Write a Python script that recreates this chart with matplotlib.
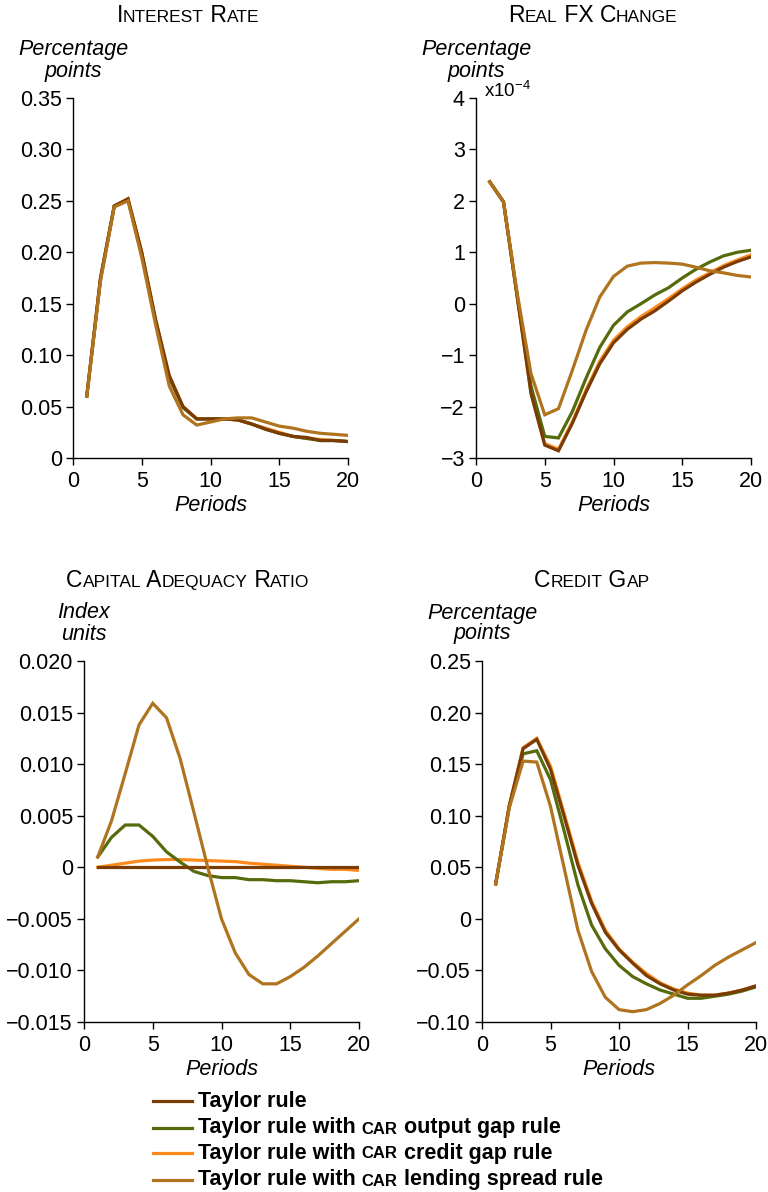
import numpy as np
import matplotlib
matplotlib.use('Agg')
import matplotlib.pyplot as plt
from matplotlib.lines import Line2D

plt.rcParams['font.family'] = ['Liberation Sans', 'DejaVu Sans']
plt.rcParams['mathtext.fontset'] = 'custom'
plt.rcParams['mathtext.rm'] = 'Liberation Sans'

#=======================================================================================
# Impulse responses (periods 1..20)
#=======================================================================================

periods = np.arange(1, 21)

scenario_names = ["Taylor rule",
                  "Taylor rule with CAR output gap rule",
                  "Taylor rule with CAR credit gap rule",
                  "Taylor rule with CAR lending spread rule"]
scenario_colors = ['#7a3c05', '#566b0c', '#ff8a1c', '#b0741f']

# Interest rate (percentage points)
ir_taylor = [0.060, 0.175, 0.245, 0.252, 0.200, 0.135, 0.080, 0.050, 0.038, 0.038,
             0.038, 0.037, 0.033, 0.028, 0.024, 0.021, 0.020, 0.017, 0.017, 0.016]
ir_output = [0.060, 0.174, 0.245, 0.251, 0.198, 0.133, 0.078, 0.049, 0.038, 0.038,
             0.038, 0.037, 0.033, 0.028, 0.024, 0.021, 0.019, 0.017, 0.017, 0.016]
ir_credit = [0.060, 0.175, 0.245, 0.252, 0.200, 0.135, 0.080, 0.050, 0.038, 0.038,
             0.038, 0.037, 0.033, 0.029, 0.025, 0.021, 0.019, 0.018, 0.017, 0.016]
ir_spread = [0.060, 0.172, 0.244, 0.250, 0.195, 0.130, 0.070, 0.042, 0.032, 0.035,
             0.038, 0.039, 0.039, 0.035, 0.031, 0.029, 0.026, 0.024, 0.023, 0.022]

# Real FX change (percentage points, x1e-4)
fx_taylor = [2.37, 1.98, 0.13, -1.75, -2.75, -2.86, -2.33, -1.72, -1.17, -0.76,
             -0.50, -0.30, -0.14, 0.05, 0.25, 0.42, 0.57, 0.71, 0.82, 0.91]
fx_output = [2.37, 1.98, 0.15, -1.60, -2.58, -2.61, -2.10, -1.45, -0.85, -0.42,
             -0.16, 0.00, 0.17, 0.31, 0.50, 0.67, 0.81, 0.93, 1.00, 1.04]
fx_credit = [2.37, 1.98, 0.13, -1.72, -2.72, -2.83, -2.30, -1.68, -1.12, -0.71,
             -0.45, -0.25, -0.08, 0.10, 0.29, 0.46, 0.60, 0.74, 0.85, 0.95]
fx_spread = [2.37, 1.98, 0.20, -1.36, -2.16, -2.04, -1.30, -0.52, 0.13, 0.53,
             0.73, 0.79, 0.80, 0.79, 0.77, 0.71, 0.64, 0.60, 0.55, 0.52]

# Capital adequacy ratio (index units)
car_taylor = [0.0] * 20
car_output = [0.0010, 0.0029, 0.0041, 0.0041, 0.0030, 0.0015, 0.0005, -0.0004, -0.0008, -0.0010,
              -0.0010, -0.0012, -0.0012, -0.0013, -0.0013, -0.0014, -0.0015, -0.0014, -0.0014, -0.0013]
car_credit = [0.0000, 0.0002, 0.0004, 0.0006, 0.0007, 0.00075, 0.00075, 0.0007, 0.00065, 0.0006,
              0.00055, 0.0004, 0.0003, 0.0002, 0.0001, 0.0000, -0.0001, -0.0002, -0.0002, -0.0003]
car_spread = [0.0010, 0.0045, 0.0091, 0.0138, 0.0159, 0.0145, 0.0105, 0.0053, 0.0000, -0.0050,
              -0.0083, -0.0104, -0.0113, -0.0113, -0.0106, -0.0097, -0.0086, -0.0074, -0.0062, -0.0050]

# Credit gap (percentage points)
cg_taylor = [0.034, 0.110, 0.165, 0.174, 0.145, 0.099, 0.052, 0.015, -0.013, -0.030,
             -0.043, -0.055, -0.063, -0.069, -0.073, -0.074, -0.074, -0.072, -0.069, -0.065]
cg_output = [0.034, 0.110, 0.160, 0.163, 0.135, 0.085, 0.033, -0.006, -0.029, -0.045,
             -0.056, -0.063, -0.069, -0.073, -0.077, -0.077, -0.075, -0.073, -0.070, -0.066]
cg_credit = [0.034, 0.110, 0.166, 0.175, 0.148, 0.102, 0.055, 0.017, -0.011, -0.029,
             -0.042, -0.053, -0.062, -0.068, -0.072, -0.074, -0.074, -0.072, -0.069, -0.065]
cg_spread = [0.034, 0.108, 0.153, 0.152, 0.109, 0.049, -0.011, -0.051, -0.076, -0.088,
             -0.090, -0.088, -0.082, -0.074, -0.064, -0.055, -0.045, -0.037, -0.030, -0.023]

yticks_ir = [0, 0.05, 0.10, 0.15, 0.20, 0.25, 0.30, 0.35]
ylabels_ir = ['0', '0.05', '0.10', '0.15', '0.20', '0.25', '0.30', '0.35']
yticks_fx = [-3, -2, -1, 0, 1, 2, 3, 4]
ylabels_fx = ['\u22123', '\u22122', '\u22121', '0', '1', '2', '3', '4']
yticks_car = [-0.015, -0.010, -0.005, 0, 0.005, 0.010, 0.015, 0.020]
ylabels_car = ['\u22120.015', '\u22120.010', '\u22120.005', '0', '0.005', '0.010', '0.015', '0.020']
yticks_cg = [-0.10, -0.05, 0, 0.05, 0.10, 0.15, 0.20, 0.25]
ylabels_cg = ['\u22120.10', '\u22120.05', '0', '0.05', '0.10', '0.15', '0.20', '0.25']

#=======================================================================================
# Figure
#=======================================================================================

W, H = 768, 1192
fig = plt.figure(figsize=(W / 100, H / 100), dpi=100)
renderer = fig.canvas.get_renderer()


def fx_(px):
    return px / W


def fy_(py):
    return 1 - py / H


def small_caps(x_px, y_px, parts, ha='center', **kw):
    # draw a run of text pieces of different sizes along one baseline
    texts = [fig.text(0, 0, s, fontsize=size, va='baseline', ha='left', **kw) for s, size in parts]
    widths = [t.get_window_extent(renderer).width for t in texts]
    x0 = x_px - sum(widths) / 2 if ha == 'center' else x_px
    for t, w in zip(texts, widths):
        t.set_position((fx_(x0), fy_(y_px)))
        x0 += w


def caps_title(x_px, y_px, text, big=16.5, small=12.5):
    # capitals stay large, lower case letters become small capitals
    parts = []
    for ch in text:
        size = small if ch.islower() else big
        if parts and parts[-1][1] == size:
            parts[-1] = (parts[-1][0] + ch.upper(), size)
        else:
            parts.append((ch.upper(), size))
    small_caps(x_px, y_px, parts)


panels = [
    # left px, top px, right px, bottom px, series, yticks, labels, title, unit
    (73, 98, 348, 458, [ir_taylor, ir_output, ir_credit, ir_spread], yticks_ir, ylabels_ir,
     "Interest Rate", ("Percentage", "points"), 188, 22),
    (476, 98, 751, 458, [fx_taylor, fx_output, fx_credit, fx_spread], yticks_fx, ylabels_fx,
     "Real FX Change", ("Percentage", "points"), 593, 22),
    (84, 661, 359, 1022, [car_taylor, car_output, car_credit, car_spread], yticks_car, ylabels_car,
     "Capital Adequacy Ratio", ("Index", "units"), 188, 587),
    (482, 661, 756, 1022, [cg_taylor, cg_output, cg_credit, cg_spread], yticks_cg, ylabels_cg,
     "Credit Gap", ("Percentage", "points"), 592, 587),
]

# draw order: credit gap rule at the bottom, lending spread rule on top
draw_order = [2, 1, 0, 3]

for (l, t, r, b, series, yt, yl, title, unit, tx, ty) in panels:
    ax = fig.add_axes([fx_(l), fy_(b), (r - l) / W, (b - t) / H])
    for z, i in enumerate(draw_order):
        ax.plot(periods, series[i], color=scenario_colors[i], lw=2.3,
                solid_joinstyle='miter', zorder=2 + z)
    ax.set_xlim(0, 20)
    ax.set_ylim(yt[0], yt[-1])
    ax.set_xticks([0, 5, 10, 15, 20])
    ax.set_yticks(yt)
    ax.set_yticklabels(yl)
    ax.spines['top'].set_visible(False)
    ax.spines['right'].set_visible(False)
    for s in ['left', 'bottom']:
        ax.spines[s].set_linewidth(1.0)
    ax.tick_params(direction='out', length=5, width=1.0, labelsize=15.5, pad=3)
    ax.tick_params(axis='x', pad=4.5)
    ax.set_xlabel("Periods", fontsize=15.5, style='italic', labelpad=2)
    ax.patch.set_visible(False)

    caps_title(tx, ty, title)
    fig.text(fx_(l), fy_(t - 48), unit[0], fontsize=15.5, style='italic', ha='center', va='center')
    fig.text(fx_(l), fy_(t - 27), unit[1], fontsize=15.5, style='italic', ha='center', va='center')

# scale note on the FX panel
fig.text(fx_(484), fy_(91), 'x10$^{\\mathregular{\u22124}}$', fontsize=13.5, ha='left', va='center')

#=======================================================================================
# Legend
#=======================================================================================

legend_y = [1101, 1128, 1153, 1180]
for i, name in enumerate(scenario_names):
    y = legend_y[i]
    fig.add_artist(Line2D([fx_(153), fx_(192)], [fy_(y), fy_(y)], color=scenario_colors[i], lw=2.3))
    if 'CAR' in name:
        a, c = name.split('CAR')
        parts = [(a, 15.5), ('CAR', 12), (c, 15.5)]
    else:
        parts = [(name, 15.5)]
    small_caps(198, y + 5.5, parts, ha='left', fontweight='bold')

fig.savefig('out.png', dpi=100)
